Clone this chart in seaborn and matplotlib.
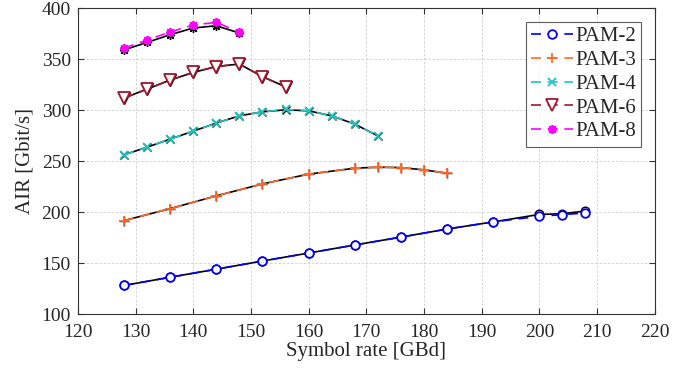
import pandas as pd
import numpy as np
import matplotlib
matplotlib.use('Agg')
import matplotlib.pyplot as plt
import seaborn as sns

# symbol rates [GBd]
rate_pam2 = [128, 136, 144, 152, 160, 168, 176, 184, 192, 200, 204, 208]
rate_pam3 = [128, 136, 144, 152, 160, 168, 172, 176, 180, 184]
rate_pam4 = [128, 132, 136, 140, 144, 148, 152, 156, 160, 164, 168, 172]
rate_pam6 = [128, 132, 136, 140, 144, 148, 152, 156]
rate_pam8 = [128, 132, 136, 140, 144, 148]

# AIR [Gbit/s], dashed coloured curves
air_pam2 = [128.3, 136.3, 144.2, 152.2, 160.0, 167.9, 175.6, 183.5, 190.5, 196.0, 197.6, 199.3]
air_pam3 = [191.8, 203.5, 216.0, 227.7, 237.3, 243.1, 244.1, 243.7, 241.5, 238.2]
air_pam4 = [256.2, 263.7, 271.6, 279.4, 287.3, 294.4, 298.3, 300.6, 299.3, 294.4, 286.3, 274.8]
air_pam6 = [311.8, 320.6, 329.4, 336.9, 342.7, 345.1, 332.8, 322.8]
air_pam8 = [360.8, 368.6, 376.5, 383.4, 385.9, 376.5]

# AIR [Gbit/s], solid black curves
ref_pam2 = [128.3, 136.3, 144.2, 152.2, 160.0, 167.9, 175.6, 183.5, 190.5, 197.8, 198.5, 201.2]
ref_pam3 = [191.8, 203.5, 216.0, 227.7, 237.3, 243.1, 244.1, 243.7, 241.5, 238.2]
ref_pam4 = [256.2, 263.7, 271.6, 279.4, 287.3, 294.4, 298.3, 300.3, 299.3, 294.4, 286.3, 274.8]
ref_pam6 = [311.8, 320.6, 329.4, 336.9, 342.7, 345.1, 332.8, 322.8]
ref_pam8 = [359.0, 366.3, 373.8, 380.4, 382.6, 375.5]

labels = ['PAM-2', 'PAM-3', 'PAM-4', 'PAM-6', 'PAM-8']
colors = ['#0000ff', '#ff6a2a', '#22c4c4', '#a3162e', '#ff00ff']
markers = ['o', '+', 'x', 'v', (8, 2, 0)]
msizes = [6.2, 6.5, 5.8, 8.0, 6.5]
rates = [rate_pam2, rate_pam3, rate_pam4, rate_pam6, rate_pam8]
airs = [air_pam2, air_pam3, air_pam4, air_pam6, air_pam8]
refs = [ref_pam2, ref_pam3, ref_pam4, ref_pam6, ref_pam8]

sns.set_style('ticks')
plt.rcParams['font.family'] = ['Liberation Serif', 'DejaVu Serif']

fig = plt.figure(figsize=(6.95, 3.81), dpi=100)
ax = fig.add_axes([0.112, 0.175, 0.830, 0.804])

for lab, col, mk, ms, x, y, yr in zip(labels, colors, markers, msizes, rates, airs, refs):
    hollow = mk in ['o', 'v']
    # black solid curve underneath
    sns.lineplot(x=x, y=yr, ax=ax, color='black', linewidth=1.2, marker=mk,
                 markersize=ms, markerfacecolor='none' if hollow else 'black',
                 markeredgecolor='black', markeredgewidth=1.0, legend=False)
    # coloured dashed curve on top
    sns.lineplot(x=x, y=y, ax=ax, color=col, linewidth=1.2, linestyle=(0, (6, 4)),
                 marker=mk, markersize=ms,
                 markerfacecolor='white' if hollow else col,
                 markeredgecolor=col, markeredgewidth=1.3, label=lab)

ax.set_xlim(120, 220)
ax.set_ylim(100, 400)
ax.set_xticks(np.arange(120, 221, 10))
ax.set_yticks(np.arange(100, 401, 50))
ax.grid(True, color='#cfcfcf', linestyle=(0, (3, 2)), linewidth=0.6)
ax.tick_params(direction='in', top=True, right=True, labelsize=14, length=4,
               color='#333333')
ax.tick_params(axis='x', pad=7)
ax.tick_params(axis='y', pad=5)
for sp in ax.spines.values():
    sp.set_color('#333333')
    sp.set_linewidth(0.8)

ax.set_xlabel('Symbol rate [GBd]', fontsize=15, labelpad=1)
ax.set_ylabel('AIR [Gbit/s]', fontsize=15, labelpad=5)

leg = ax.legend(loc='upper right', fontsize=15, frameon=True, fancybox=False,
                edgecolor='#333333', handlelength=2.0, handletextpad=0.1,
                borderpad=0.25, labelspacing=0.2, borderaxespad=0.65)
leg.get_frame().set_linewidth(0.8)

plt.savefig('out.png', dpi=100)
